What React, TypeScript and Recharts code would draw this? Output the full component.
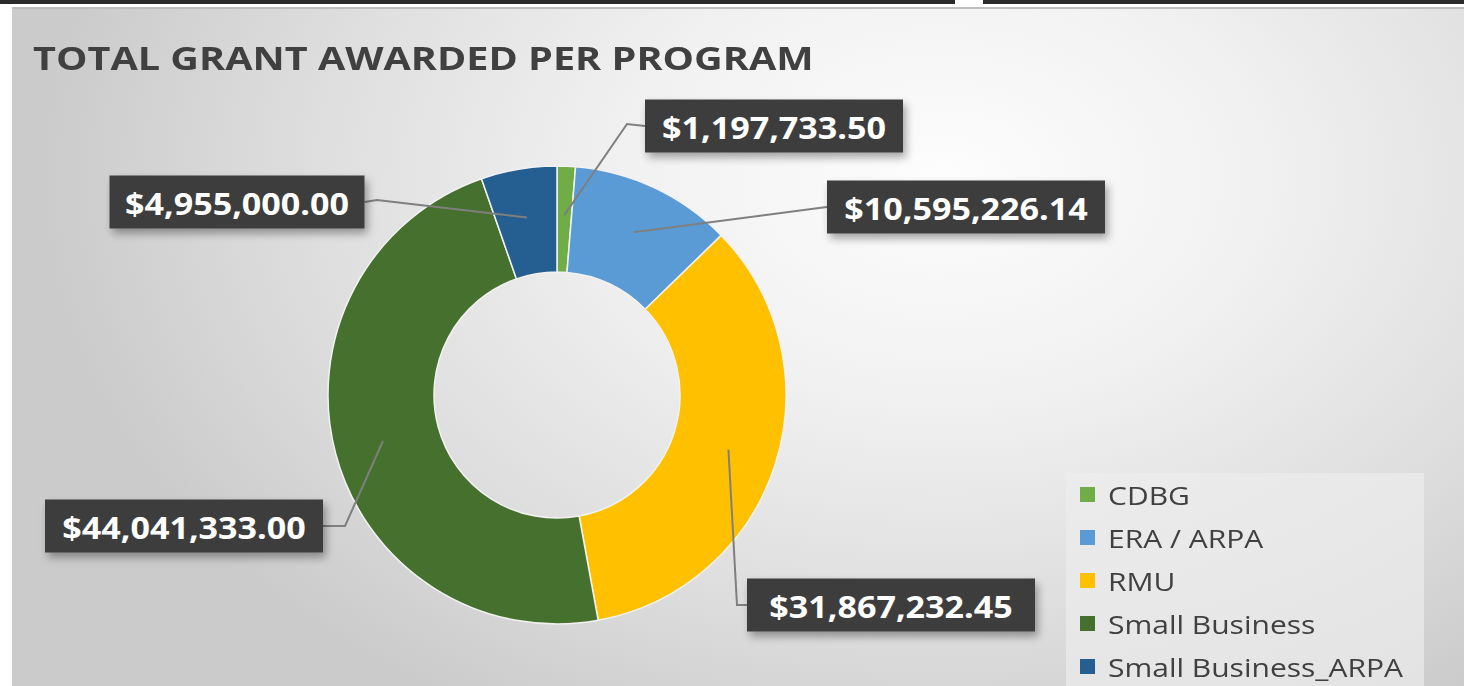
import { PieChart, Pie, Cell, Legend } from "recharts"

const programs = ["CDBG", "ERA / ARPA", "RMU", "Small Business", "Small Business_ARPA"]
const awarded = [1197733.5, 10595226.14, 31867232.45, 44041333.0, 4955000.0]
const colors = ["#70AD47", "#5B9BD5", "#FFC000", "#46702D", "#255E91"]

// where each label box sits, relative to the donut centre (box centre, box width, elbow point)
const labelLayout = [
  { dx: 217, dy: -269, w: 258, ex: 70, ey: -271 },
  { dx: 409, dy: -188, w: 278, ex: 262, ey: -187 },
  { dx: 334, dy: 210, w: 288, ex: 180, ey: 210 },
  { dx: -373, dy: 131, w: 278, ex: -212, ey: 131 },
  { dx: -320, dy: -193, w: 255, ex: -180, ey: -195 },
]

const chartData = programs.map((name, i) => ({ name, value: awarded[i] }))

const money = (v: number) =>
  "$" + v.toLocaleString("en-US", { minimumFractionDigits: 2, maximumFractionDigits: 2 })

const RAD = Math.PI / 180

function DataLabel(props: any) {
  const { cx, cy, midAngle, innerRadius, outerRadius, index, value } = props
  const lay = labelLayout[index]
  const r = (innerRadius + outerRadius) / 2 + 4
  const px = cx + r * Math.cos(-midAngle * RAD)
  const py = cy + r * Math.sin(-midAngle * RAD)
  const bx = cx + lay.dx
  const by = cy + lay.dy
  const h = 53
  const edgeX = lay.dx > 0 ? bx - lay.w / 2 : bx + lay.w / 2
  return (
    <g>
      <polyline
        points={`${px},${py} ${cx + lay.ex},${cy + lay.ey} ${edgeX},${by}`}
        fill="none"
        stroke="#7f7f7f"
        strokeWidth={2}
      />
      <rect
        x={bx - lay.w / 2}
        y={by - h / 2}
        width={lay.w}
        height={h}
        fill="#3d3d3d"
        filter="url(#boxShadow)"
      />
      <text
        transform={`translate(${bx},${by + 1}) scale(1.1,1)`}
        x={0}
        y={0}
        textAnchor="middle"
        dominantBaseline="central"
        fill="#ffffff"
        fontFamily="'Open Sans', sans-serif"
        fontWeight={700}
        fontSize={31}
      >
        {money(value)}
      </text>
    </g>
  )
}

function LegendBox() {
  return (
    <div
      style={{
        width: 358,
        height: 213,
        background: "rgba(236,236,236,0.7)",
        boxSizing: "border-box",
      }}
    >
      {programs.map((p, i) => (
        <div
          key={p}
          style={{ display: "flex", alignItems: "center", height: 43, paddingLeft: 14 }}
        >
          <div style={{ width: 15, height: 15, background: colors[i], marginRight: 13 }} />
          <span
            style={{
              display: "inline-block",
              fontFamily: "'Open Sans', sans-serif",
              fontSize: 25,
              color: "#404040",
              whiteSpace: "nowrap",
              transform: "scaleX(1.2)",
              transformOrigin: "left center",
            }}
          >
            {p}
          </span>
        </div>
      ))}
    </div>
  )
}

export default function App() {
  return (
    <div style={{ position: "absolute", left: 0, top: 0, width: 1464, height: 686, background: "#ffffff", overflow: "hidden" }}>
      <div style={{ position: "absolute", left: 0, top: 0, width: 955, height: 4, background: "#2a2a2a" }} />
      <div style={{ position: "absolute", left: 983, top: 0, width: 481, height: 4, background: "#2a2a2a" }} />
      <div
        style={{
          position: "absolute",
          left: 12,
          top: 7,
          width: 1452,
          height: 679,
          borderTop: "2px solid #bdbdbd",
          boxSizing: "border-box",
          background:
            "radial-gradient(ellipse 900px 620px at 930px 170px, #fdfdfd 0%, #f1f1f1 35%, #dedede 70%, #cbcbcb 100%)",
        }}
      />
      <div
        style={{
          position: "absolute",
          left: 33,
          top: 35,
          fontFamily: "'Open Sans', sans-serif",
          fontWeight: 700,
          fontSize: 33,
          color: "#404040",
          whiteSpace: "nowrap",
          transform: "scaleX(1.2)",
          transformOrigin: "left center",
        }}
      >
        TOTAL GRANT AWARDED PER PROGRAM
      </div>
      <div style={{ position: "absolute", left: 0, top: 0 }}>
        <PieChart width={1464} height={686}>
          <defs>
            <filter id="boxShadow" x="-20%" y="-40%" width="140%" height="190%">
              <feDropShadow dx={3} dy={5} stdDeviation={4} floodColor="#000" floodOpacity={0.35} />
            </filter>
          </defs>
          <Pie
            data={chartData}
            dataKey="value"
            nameKey="name"
            cx={552}
            cy={390}
            innerRadius={123}
            outerRadius={229}
            startAngle={90}
            endAngle={-270}
            stroke="#f2f2f2"
            strokeWidth={1.5}
            label={DataLabel}
            labelLine={false}
            isAnimationActive={false}
          >
            {chartData.map((d, i) => (
              <Cell key={d.name} fill={colors[i]} />
            ))}
          </Pie>
          <Legend
            layout="vertical"
            content={() => <LegendBox />}
            wrapperStyle={{ left: 1066, top: 473, width: 358 }}
          />
        </PieChart>
      </div>
    </div>
  )
}
